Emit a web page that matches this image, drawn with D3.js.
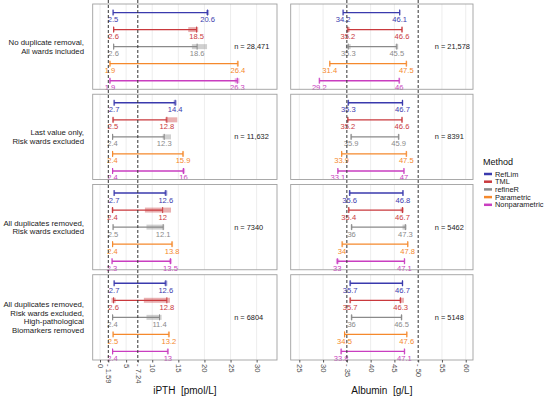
<!doctype html>
<html lang="en">
<head>
  <meta charset="utf-8">
  <title>Reference limits - D3</title>
  <style>
    body { margin: 0; background: #fff; }
    svg { font-family: "Liberation Sans", Arial, sans-serif; }
  </style>
</head>
<body>
  <svg width="550" height="401"></svg>
  <script src="https://cdn.jsdelivr.net/npm/d3@7"></script>
  <script>
    // ---- data ----
    var methods = ['RefLim', 'TML', 'refineR', 'Parametric', 'Nonparametric'];
    var colors = ['#3a3aad', '#c9393d', '#8a8a8a', '#f5892c', '#c93ec0'];
    var scenarios = [
      ['No duplicate removal,', 'All wards included'],
      ['Last value only,', 'Risk wards excluded'],
      ['All duplicates removed,', 'Risk wards excluded'],
      ['All duplicates removed,', 'Risk wards excluded,', 'High-pathological', 'Biomarkers removed']
    ];

    // iPTH [pmol/L]: lower / upper limit per scenario, per method
    var pthN = ['n = 28,471', 'n = 11,632', 'n = 7340', 'n = 6804'];
    var pthLower = [[2.5, 2.6, 2.6, 1.9, 1.9], [2.7, 2.5, 2.4, 2.4, 2.4], [2.7, 2.4, 2.5, 2.4, 2.3], [2.7, 2.6, 2.4, 2.5, 2.4]];
    var pthUpper = [[20.6, 18.5, 18.6, 26.4, 26.3], [14.4, 12.8, 12.3, 15.9, 16], [12.6, 12, 12.1, 13.8, 13.5], [12.6, 12.8, 11.4, 13.2, 13]];
    // confidence intervals [lo, hi] around each limit
    var pthLowerCI = [
      [[2.4, 2.6], [2.5, 2.8], [2.5, 2.7], [1.8, 2.0], [1.8, 2.0]],
      [[2.6, 2.8], [2.3, 2.7], [2.3, 2.5], [2.3, 2.5], [2.3, 2.5]],
      [[2.6, 2.8], [2.2, 2.6], [2.4, 2.6], [2.3, 2.5], [2.2, 2.4]],
      [[2.6, 2.8], [2.2, 3.0], [2.3, 2.5], [2.4, 2.6], [2.3, 2.5]]
    ];
    var pthUpperCI = [
      [[20.3, 20.9], [16.9, 18.8], [17.6, 20.5], [26.2, 26.6], [25.8, 26.7]],
      [[14.1, 14.7], [12.5, 14.8], [12.0, 13.6], [15.7, 16.1], [15.7, 16.3]],
      [[12.3, 12.9], [8.6, 13.6], [8.9, 12.3], [13.6, 14.0], [13.2, 13.8]],
      [[12.3, 12.9], [8.4, 13.4], [8.9, 11.8], [13.0, 13.4], [12.8, 13.2]]
    ];

    // Albumin [g/L]
    var albN = ['n = 21,578', 'n = 8391', 'n = 5462', 'n = 5148'];
    var albLower = [[34.2, 35.2, 35.3, 31.4, 29.2], [35.3, 35.2, 35.9, 33.9, 33.1], [35.6, 35.4, 36, 34, 33], [35.7, 35.7, 36, 34.5, 33.8]];
    var albUpper = [[46.1, 46.6, 45.5, 47.5, 46], [46.7, 46.6, 45.9, 47.5, 47], [46.8, 46.7, 47.3, 47.8, 47.1], [46.7, 46.3, 46.5, 47.6, 47.1]];
    var albLowerCI = [
      [[34.1, 34.3], [34.9, 35.6], [34.8, 35.8], [31.3, 31.5], [29.1, 29.3]],
      [[35.1, 35.5], [35.0, 35.4], [35.7, 36.1], [33.8, 34.0], [33.0, 33.2]],
      [[35.4, 35.8], [35.2, 35.6], [35.8, 36.2], [33.9, 34.1], [32.7, 33.4]],
      [[35.5, 35.9], [35.5, 35.9], [35.8, 36.2], [34.4, 34.6], [33.6, 34.0]]
    ];
    var albUpperCI = [
      [[46.0, 46.2], [46.4, 46.8], [45.2, 45.8], [47.4, 47.6], [45.9, 46.1]],
      [[46.5, 46.9], [46.4, 46.8], [45.7, 46.1], [47.4, 47.6], [46.9, 47.1]],
      [[46.6, 47.0], [46.3, 47.0], [46.7, 47.6], [47.7, 47.9], [47.0, 47.2]],
      [[46.5, 46.9], [46.0, 47.0], [46.3, 46.7], [47.5, 47.7], [47.0, 47.2]]
    ];

    var pthTicks = [0, 5, 10, 15, 20, 25, 30];
    var pthRefs = [1.59, 7.24];
    var albTicks = [25, 30, 40, 45, 55, 60];
    var albRefs = [35, 50];

    // ---- layout ----
    var svg = d3.select('svg');
    var panelY = d3.scaleBand().domain(d3.range(scenarios.length)).range([4, 360]).paddingInner(0.055);
    var rowY = d3.scaleBand().domain(methods).range([0, panelY.bandwidth()]);

    var xPth = d3.scaleLinear().domain([-1.4, 33.9]).range([92.7, 277]);
    var xAlb = d3.scaleLinear().domain([23.19, 61.53]).range([290.7, 473]);

    function drawColumn(x, ticks, refs, lower, upper, lowerCI, upperCI, nLabels, nX, title) {
      var col = svg.append('g');
      var x0 = x.range()[0], x1 = x.range()[1];

      scenarios.forEach(function (s, p) {
        var g = col.append('g').attr('transform', 'translate(0,' + panelY(p) + ')');
        g.append('rect').attr('x', x0).attr('y', 0)
          .attr('width', x1 - x0).attr('height', panelY.bandwidth())
          .attr('fill', '#fff');
        g.selectAll('line.grid').data(ticks).enter()
          .append('line').attr('class', 'grid')
          .attr('x1', x).attr('x2', x)
          .attr('y1', 0).attr('y2', panelY.bandwidth())
          .attr('stroke', '#e0e0e0').attr('stroke-width', 0.6);

        var rows = methods.map(function (m, i) {
          return { m: m, i: i, lo: lower[p][i], hi: upper[p][i], loCI: lowerCI[p][i], hiCI: upperCI[p][i] };
        });
        var r = g.selectAll('g.row').data(rows).enter().append('g')
          .attr('transform', function (d) { return 'translate(0,' + (rowY(d.m) + rowY.bandwidth() / 2) + ')'; });

        // confidence intervals
        r.selectAll('rect.ci').data(function (d) { return [d.loCI, d.hiCI].map(function (c) { return { c: c, i: d.i }; }); })
          .enter().append('rect')
          .attr('x', function (d) { return x(d.c[0]); })
          .attr('width', function (d) { return Math.max(1.5, x(d.c[1]) - x(d.c[0])); })
          .attr('y', -2.5).attr('height', 5)
          .attr('fill', function (d) { return colors[d.i]; })
          .attr('opacity', 0.4);

        r.append('line')
          .attr('x1', function (d) { return x(d.lo); }).attr('x2', function (d) { return x(d.hi); })
          .attr('stroke', function (d) { return colors[d.i]; }).attr('stroke-width', 1.3);
        r.selectAll('line.cap').data(function (d) { return [d.lo, d.hi].map(function (v) { return { v: v, i: d.i }; }); })
          .enter().append('line')
          .attr('x1', function (d) { return x(d.v); }).attr('x2', function (d) { return x(d.v); })
          .attr('y1', -3).attr('y2', 3)
          .attr('stroke', function (d) { return colors[d.i]; }).attr('stroke-width', 1);
        r.selectAll('text').data(function (d) { return [d.lo, d.hi].map(function (v) { return { v: v, i: d.i }; }); })
          .enter().append('text')
          .attr('x', function (d) { return x(d.v); })
          .attr('y', 9.5)
          .attr('text-anchor', 'middle')
          .attr('font-size', 7.6)
          .attr('fill', function (d) { return colors[d.i]; })
          .text(function (d) { return d.v; });

        g.append('text')
          .attr('x', x(nX)).attr('y', panelY.bandwidth() / 2 + 2.5)
          .attr('font-size', 7.4).attr('fill', '#1a1a1a')
          .text(nLabels[p]);

        g.append('rect').attr('x', x0).attr('y', 0)
          .attr('width', x1 - x0).attr('height', panelY.bandwidth())
          .attr('fill', 'none').attr('stroke', '#a0a0a0').attr('stroke-width', 0.9);
      });

      // dashed reference lines across all panels
      col.selectAll('line.ref').data(refs).enter().append('line')
        .attr('x1', x).attr('x2', x)
        .attr('y1', 0).attr('y2', 362)
        .attr('stroke', '#333').attr('stroke-width', 1)
        .attr('stroke-dasharray', '3,2');

      // bottom axis, rotated labels
      var axis = col.append('g').attr('transform', 'translate(0,360)')
        .call(d3.axisBottom(x).tickValues(ticks.concat(refs).sort(d3.ascending)).tickSize(2.5).tickPadding(0)
          .tickFormat(function (d) { return refs.indexOf(d) >= 0 ? '- ' + d : d; }));
      axis.select('.domain').remove();
      axis.selectAll('.tick line').attr('stroke', '#555');
      axis.selectAll('.tick text')
        .attr('transform', 'rotate(90)')
        .attr('x', 4).attr('y', 0).attr('dy', '0.33em')
        .attr('text-anchor', 'start')
        .attr('font-size', 7.6)
        .attr('fill', '#4d4d4d');

      svg.append('text')
        .attr('x', (x0 + x1) / 2).attr('y', 394)
        .attr('text-anchor', 'middle')
        .attr('font-size', 10).attr('fill', '#111')
        .text(title);
    }

    drawColumn(xPth, pthTicks, pthRefs, pthLower, pthUpper, pthLowerCI, pthUpperCI, pthN, 25.7, 'iPTH\u00a0\u00a0[pmol/L]');
    drawColumn(xAlb, albTicks, albRefs, albLower, albUpper, albLowerCI, albUpperCI, albN, 53.5, 'Albumin\u00a0\u00a0[g/L]');

    // facet labels on the left
    scenarios.forEach(function (s, p) {
      var cy = panelY(p) + panelY.bandwidth() / 2;
      var t = svg.append('text').attr('text-anchor', 'end').attr('font-size', 7.8).attr('fill', '#1a1a1a');
      s.forEach(function (line, k) {
        t.append('tspan').attr('x', 84)
          .attr('y', cy + (k - (s.length - 1) / 2) * 8.4 + 2.7)
          .text(line);
      });
    });

    // legend
    var legend = svg.append('g').attr('transform', 'translate(483,0)');
    legend.append('text').attr('x', 0).attr('y', 165).attr('font-size', 9).attr('fill', '#111').text('Method');
    var item = legend.selectAll('g.item').data(methods).enter().append('g')
      .attr('transform', function (d, i) { return 'translate(0,' + (174 + i * 7.7) + ')'; });
    item.append('line').attr('x1', 1).attr('x2', 9)
      .attr('stroke', function (d, i) { return colors[i]; }).attr('stroke-width', 2.5);
    item.append('text').attr('x', 12).attr('y', 2.6)
      .attr('font-size', 7.4).attr('fill', '#1a1a1a')
      .text(function (d) { return d; });
  </script>
</body>
</html>
